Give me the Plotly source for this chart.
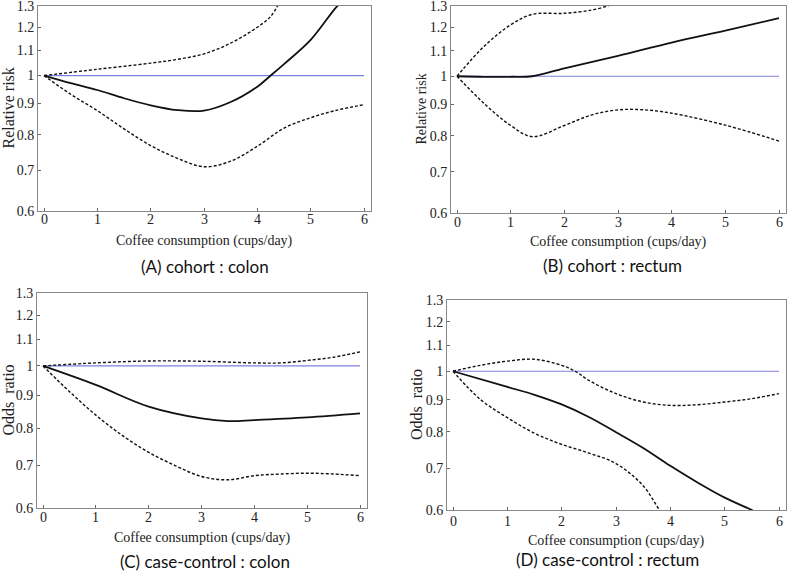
import plotly.graph_objects as go
import numpy as np

W, H = 788, 572

# ---- data ----
# Panel A: cohort : colon
a_est_x = [0, 0.5, 1, 1.5, 2, 2.5, 3, 3.5, 4, 4.25, 4.5, 5, 5.5, 5.6]
a_est_y = [1.0, 0.972, 0.947, 0.918, 0.894, 0.878, 0.876, 0.905, 0.959, 1.0, 1.044, 1.144, 1.30, 1.32]
a_up_x = [0, 1, 2, 2.5, 3, 3.5, 4, 4.25, 4.4]
a_up_y = [1.0, 1.024, 1.048, 1.063, 1.085, 1.13, 1.20, 1.25, 1.31]
a_lo_x = [0, 0.5, 1, 1.5, 2, 2.5, 3, 3.5, 4, 4.5, 5, 5.5, 6]
a_lo_y = [1.0, 0.932, 0.876, 0.818, 0.768, 0.732, 0.709, 0.724, 0.766, 0.820, 0.853, 0.878, 0.896]

# Panel B: cohort : rectum
b_est_x = [0, 0.5, 1, 1.4, 2, 3, 4, 5, 6]
b_est_y = [1.0, 0.998, 0.998, 1.0, 1.03, 1.079, 1.134, 1.186, 1.242]
b_up_x = [0, 0.5, 1, 1.4, 2, 2.5, 2.8, 2.9]
b_up_y = [1.0, 1.117, 1.212, 1.26, 1.265, 1.28, 1.30, 1.31]
b_lo_x = [0, 0.5, 1, 1.4, 2, 2.5, 3, 3.5, 4, 5, 6]
b_lo_y = [1.0, 0.904, 0.832, 0.798, 0.832, 0.865, 0.882, 0.882, 0.871, 0.833, 0.785]

# Panel C: case-control : colon
c_est_x = [0, 1, 2, 3, 3.5, 4, 5, 6]
c_est_y = [1.0, 0.934, 0.864, 0.828, 0.820, 0.823, 0.831, 0.843]
c_up_x = [0, 1, 2, 3, 4, 4.5, 5, 5.5, 6]
c_up_y = [1.0, 1.011, 1.018, 1.017, 1.011, 1.011, 1.020, 1.032, 1.052]
c_lo_x = [0, 0.5, 1, 1.5, 2, 2.5, 3, 3.5, 4, 4.5, 5, 5.5, 6]
c_lo_y = [1.0, 0.912, 0.838, 0.779, 0.733, 0.699, 0.672, 0.664, 0.674, 0.678, 0.680, 0.678, 0.674]

# Panel D: case-control : rectum
d_est_x = [0, 1, 1.5, 2, 2.5, 3, 3.5, 4, 4.5, 5, 5.5, 5.6]
d_est_y = [1.0, 0.944, 0.917, 0.885, 0.845, 0.799, 0.754, 0.706, 0.664, 0.628, 0.60, 0.594]
d_up_x = [0, 0.5, 1, 1.5, 2, 2.25, 2.5, 3, 3.5, 4, 4.5, 5, 5.5, 6]
d_up_y = [1.0, 1.022, 1.038, 1.045, 1.022, 1.0, 0.967, 0.921, 0.893, 0.882, 0.884, 0.893, 0.904, 0.921]
d_lo_x = [0, 0.5, 1, 1.5, 2, 2.5, 3, 3.5, 3.8, 3.9]
d_lo_y = [1.0, 0.902, 0.843, 0.796, 0.764, 0.740, 0.712, 0.656, 0.60, 0.585]

ref_x = [0, 6]
ref_y = [1, 1]

y_ticks = [0.6, 0.7, 0.8, 0.9, 1.0, 1.1, 1.2, 1.3]
y_tick_text = ["0.6", "0.7", "0.8", "0.9", "1", "1.1", "1.2", "1.3"]
x_ticks = [0, 1, 2, 3, 4, 5, 6]

captions = ["(A) cohort : colon", "(B) cohort : rectum", "(C) case-control : colon", "(D) case-control : rectum"]
ytitles = ["Relative risk", "Relative risk", "Odds  ratio", "Odds  ratio"]
xtitle = "Coffee consumption (cups/day)"

# ---- layout positions in pixels: (left, right, top, bottom) ----
boxes = [(38, 371, 6, 211), (451, 786, 6, 213), (37, 367, 293, 508), (447, 786, 300, 510)]
ytitle_x = [8, 421, 8, 416]
ytitle_size = [16, 14, 16, 16]
xticklab_y = [220, 222, 517, 521]
xtitle_y = [241, 242, 538, 541]
cap_y = [266, 265, 561, 559]
cap_x = [205, 612, 205, 607]

series = [
    (a_est_x, a_est_y, a_up_x, a_up_y, a_lo_x, a_lo_y),
    (b_est_x, b_est_y, b_up_x, b_up_y, b_lo_x, b_lo_y),
    (c_est_x, c_est_y, c_up_x, c_up_y, c_lo_x, c_lo_y),
    (d_est_x, d_est_y, d_up_x, d_up_y, d_lo_x, d_lo_y),
]

serif = "Liberation Serif, Times New Roman, serif"
sans = "Lato, Open Sans, sans-serif"

fig = go.Figure()
layout = dict(width=W, height=H, margin=dict(l=0, r=0, t=0, b=0, autoexpand=False),
              paper_bgcolor="white", plot_bgcolor="white", showlegend=False,
              annotations=[])

for i, (bx, s) in enumerate(zip(boxes, series)):
    l, r, t, b = bx
    n = "" if i == 0 else str(i + 1)
    xa, ya = "x" + n, "y" + n
    ex, ey, ux, uy, lx, ly = s
    fig.add_trace(go.Scatter(x=ref_x, y=ref_y, mode="lines", xaxis=xa, yaxis=ya,
                             line=dict(color="#7f7fe0", width=1.2)))
    fig.add_trace(go.Scatter(x=ux, y=uy, mode="lines", xaxis=xa, yaxis=ya, line_shape="spline",
                             line=dict(color="#111", width=1.4, dash="3px,2px", smoothing=1.0)))
    fig.add_trace(go.Scatter(x=lx, y=ly, mode="lines", xaxis=xa, yaxis=ya, line_shape="spline",
                             line=dict(color="#111", width=1.4, dash="3px,2px", smoothing=1.0)))
    fig.add_trace(go.Scatter(x=ex, y=ey, mode="lines", xaxis=xa, yaxis=ya, line_shape="spline",
                             line=dict(color="#111", width=1.8, smoothing=1.0)))
    ppu = (r - l - 13) / 6
    x_lo = -6 / ppu
    x_hi = 6 + 7 / ppu
    layout["xaxis" + n] = dict(domain=[l / W, r / W], anchor=ya, range=[x_lo, x_hi],
                               tickvals=x_ticks, ticks="inside", ticklen=3, tickcolor="#666",
                               showline=True, mirror=True, linecolor="#888", linewidth=1,
                               showgrid=False, zeroline=False, showticklabels=False,
                               automargin=False, fixedrange=True)
    layout["yaxis" + n] = dict(domain=[1 - b / H, 1 - t / H], anchor=xa, type="log",
                               range=[np.log10(0.6), np.log10(1.3)],
                               tickvals=y_ticks, ticktext=y_tick_text, ticks="inside",
                               ticklen=3, tickcolor="#666", ticklabeloverflow="allow",
                               showline=True, mirror=True, linecolor="#888", linewidth=1,
                               showgrid=False, zeroline=False, automargin=False,
                               tickfont=dict(family=serif, size=14, color="#222"),
                               fixedrange=True)
    for xv in x_ticks:
        layout["annotations"].append(dict(x=xv, y=1 - xticklab_y[i] / H, xref=xa, yref="paper",
                                          text=str(xv), showarrow=False,
                                          font=dict(family=serif, size=14, color="#222"),
                                          xanchor="center", yanchor="middle"))
    layout["annotations"].append(dict(x=(l + r) / 2 / W, y=1 - xtitle_y[i] / H, xref="paper", yref="paper",
                                      text=xtitle, showarrow=False,
                                      font=dict(family=serif, size=14, color="#222"),
                                      xanchor="center", yanchor="middle"))
    layout["annotations"].append(dict(x=ytitle_x[i] / W, y=1 - (t + b) / 2 / H, xref="paper", yref="paper",
                                      text=ytitles[i], showarrow=False, textangle=-90,
                                      font=dict(family=serif, size=ytitle_size[i], color="#222"),
                                      xanchor="center", yanchor="middle"))
    layout["annotations"].append(dict(x=cap_x[i] / W, y=1 - cap_y[i] / H, xref="paper", yref="paper",
                                      text=captions[i], showarrow=False,
                                      font=dict(family=sans, size=17, color="#111"),
                                      xanchor="center", yanchor="middle"))

fig.update_layout(**layout)
fig.write_html("out.html", config={"displayModeBar": False},
               post_script="document.body.style.margin='0';document.body.style.overflow='hidden';")
